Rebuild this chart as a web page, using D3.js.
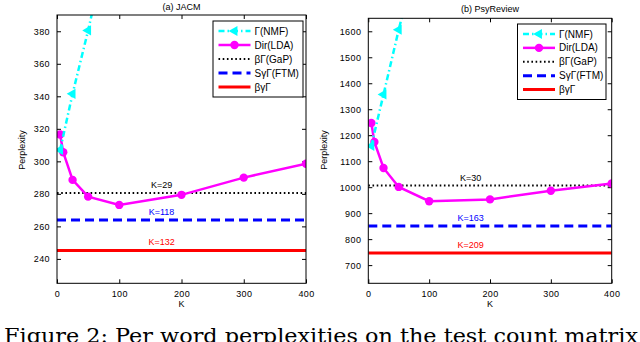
<!DOCTYPE html>
<html><head><meta charset="utf-8">
<script src="https://cdn.jsdelivr.net/npm/d3@7"></script>
<style>
body{margin:0;background:#fff;}
svg{display:block;}
text{font-family:"Liberation Sans",Arial,sans-serif;}
text.cap{font-family:"DejaVu Serif","Liberation Serif",serif;}
</style></head>
<body>
<svg id="c" width="640" height="342"></svg>
<script>
// ---- data ----
const seriesNames = ["Γ(NMF)", "Dir(LDA)", "βΓ(GaP)", "SγΓ(FTM)", "βγΓ"];
const seriesColors = ["#00ffff", "#ff00ff", "#000000", "#0000ff", "#ff0000"];

const kNMF = [5, 25, 50, 100];
const kDir = [5, 10, 25, 50, 100, 200, 300, 400];

const jacmNMF = [307, 341.5, 380.5, 465];
const jacmDir = [316.5, 305.6, 288.6, 278.3, 273.2, 279.4, 290, 298.5];
const jacmGaP = 280.5, jacmFTM = 264, jacmBGG = 245.2;
const jacmLabels = ["K=29", "K=118", "K=132"];

const psyNMF = [1159, 1357, 1606, 2075];
const psyDir = [1247, 1174, 1074, 1001, 946, 953, 986, 1014];
const psyGaP = 1006, psyFTM = 851, psyBGG = 747;
const psyLabels = ["K=30", "K=163", "K=209"];

const xTicks = [0, 100, 200, 300, 400];
const jacmYTicks = [240, 260, 280, 300, 320, 340, 360, 380];
const psyYTicks = [700, 800, 900, 1000, 1100, 1200, 1300, 1400, 1500, 1600];

const titles = ["(a) JACM", "(b) PsyReview"];
const caption = "Figure 2:  Per word perplexities on the test count matrix";

// ---- drawing ----
const svg = d3.select("#c");

const panels = [
  {title: titles[0], x0: 57, x1: 306, y0: 15, y1: 283.3, yDom: [225, 390], yTicks: jacmYTicks,
   nmf: jacmNMF, dir: jacmDir, h: [jacmGaP, jacmFTM, jacmBGG], labels: jacmLabels,
   titleY: 10, ylabX: 25, leg: [213, 303, 21, 97]},
  {title: titles[1], x0: 368.3, x1: 611.7, y0: 18.3, y1: 283.3, yDom: [630, 1650], yTicks: psyYTicks,
   nmf: psyNMF, dir: psyDir, h: [psyGaP, psyFTM, psyBGG], labels: psyLabels,
   titleY: 12, ylabX: 327, leg: [517.5, 606, 24, 99.5]}
];

const styles = [
  {w: 2.5, dash: "6,3,1.5,3"},
  {w: 2.5, dash: null},
  {w: 2, dash: "1.6,2.6"},
  {w: 3, dash: "9,5"},
  {w: 3, dash: null}
];

panels.forEach((p, pi) => {
  const x = d3.scaleLinear().domain([0, 400]).range([p.x0, p.x1]);
  const y = d3.scaleLinear().domain(p.yDom).range([p.y1, p.y0]);
  const g = svg.append("g");

  const clipId = "clip" + pi;
  svg.append("clipPath").attr("id", clipId).append("rect")
    .attr("x", p.x0).attr("y", p.y0).attr("width", p.x1 - p.x0).attr("height", p.y1 - p.y0);

  // axes (ticks inward)
  const tickFont = g => g.selectAll("text").attr("font-size", 9).attr("fill", "#000")
      .style("letter-spacing", "0.4px");
  const axL = g.append("g").attr("transform", `translate(${p.x0},0)`)
    .call(d3.axisLeft(y).tickValues(p.yTicks).tickSize(-4).tickPadding(7).tickFormat(d3.format("d")));
  axL.call(tickFont);
  const axR = g.append("g").attr("transform", `translate(${p.x1},0)`)
    .call(d3.axisRight(y).tickValues(p.yTicks).tickSize(-4).tickFormat(""));
  const axB = g.append("g").attr("transform", `translate(0,${p.y1})`)
    .call(d3.axisBottom(x).tickValues(xTicks).tickSize(-4).tickPadding(7));
  axB.call(tickFont);
  const axT = g.append("g").attr("transform", `translate(0,${p.y0})`)
    .call(d3.axisTop(x).tickValues(xTicks).tickSize(-4).tickFormat(""));
  [axL, axR, axB, axT].forEach(a => {
    a.select(".domain").remove();
    a.selectAll("line").attr("stroke", "#000").attr("stroke-width", 1);
  });

  const plot = g.append("g").attr("clip-path", `url(#${clipId})`);

  // horizontal reference lines
  p.h.forEach((v, i) => {
    const s = styles[i + 2];
    plot.append("line")
      .attr("x1", x(0)).attr("x2", x(400)).attr("y1", y(v)).attr("y2", y(v))
      .attr("stroke", seriesColors[i + 2]).attr("stroke-width", s.w)
      .attr("stroke-dasharray", s.dash);
    g.append("text").attr("x", x(168)).attr("y", y(v) - 5)
      .attr("text-anchor", "middle").attr("font-size", 9)
      .attr("fill", seriesColors[i + 2]).text(p.labels[i]);
  });

  // Dir(LDA)
  const line = d3.line().x(d => x(d[0])).y(d => y(d[1]));
  const dirPts = kDir.map((k, i) => [k, p.dir[i]]);
  plot.append("path").attr("d", line(dirPts)).attr("fill", "none")
    .attr("stroke", seriesColors[1]).attr("stroke-width", styles[1].w);
  plot.selectAll(".dm").data(dirPts).join("circle")
    .attr("cx", d => x(d[0])).attr("cy", d => y(d[1])).attr("r", 4.2)
    .attr("fill", seriesColors[1]);

  // NMF
  const nmfPts = kNMF.map((k, i) => [k, p.nmf[i]]);
  plot.append("path").attr("d", line(nmfPts)).attr("fill", "none")
    .attr("stroke", seriesColors[0]).attr("stroke-width", styles[0].w)
    .attr("stroke-dasharray", styles[0].dash);
  const tri = d3.symbol().type(d3.symbolTriangle).size(45);
  plot.selectAll(".nm").data(nmfPts).join("path")
    .attr("d", tri())
    .attr("transform", d => `translate(${x(d[0])},${y(d[1])}) rotate(-90)`)
    .attr("fill", seriesColors[0]);

  // box
  g.append("rect").attr("x", p.x0).attr("y", p.y0)
    .attr("width", p.x1 - p.x0).attr("height", p.y1 - p.y0)
    .attr("fill", "none").attr("stroke", "#000").attr("stroke-width", 1);

  // titles & axis labels
  g.append("text").attr("x", (p.x0 + p.x1) / 2).attr("y", p.titleY)
    .attr("text-anchor", "middle").attr("font-size", 9).text(p.title);
  g.append("text").attr("x", (p.x0 + p.x1) / 2).attr("y", 306.5)
    .attr("text-anchor", "middle").attr("font-size", 9).text("K");
  g.append("text").attr("transform", `translate(${p.ylabX},150) rotate(-90)`)
    .attr("text-anchor", "middle").attr("font-size", 9).text("Perplexity");

  // legend
  const [lx0, lx1, ly0, ly1] = p.leg;
  const lg = g.append("g");
  lg.append("rect").attr("x", lx0).attr("y", ly0).attr("width", lx1 - lx0).attr("height", ly1 - ly0)
    .attr("fill", "#fff").attr("stroke", "#000").attr("stroke-width", 1);
  const step = (ly1 - ly0 - 20) / 4;
  seriesNames.forEach((name, i) => {
    const yy = ly0 + 10 + i * step;
    const sx0 = lx0 + 5.5, sx1 = lx0 + 37.5;
    lg.append("line").attr("x1", sx0).attr("x2", sx1).attr("y1", yy).attr("y2", yy)
      .attr("stroke", seriesColors[i]).attr("stroke-width", styles[i].w)
      .attr("stroke-dasharray", styles[i].dash);
    if (i === 0) {
      lg.append("path").attr("d", tri())
        .attr("transform", `translate(${(sx0 + sx1) / 2},${yy}) rotate(-90)`)
        .attr("fill", seriesColors[0]);
    }
    if (i === 1) {
      lg.append("circle").attr("cx", (sx0 + sx1) / 2).attr("cy", yy).attr("r", 4.2)
        .attr("fill", seriesColors[1]);
    }
    lg.append("text").attr("x", lx0 + 41.5).attr("y", yy + 3.5)
      .attr("font-size", 10).text(name);
  });
});

// caption (cut by the bottom edge, as in the reference)
svg.append("text").attr("class", "cap").attr("x", 4).attr("y", 343)
  .attr("font-size", 21).attr("textLength", 634).attr("lengthAdjust", "spacingAndGlyphs")
  .text(caption);
</script>
</body></html>
